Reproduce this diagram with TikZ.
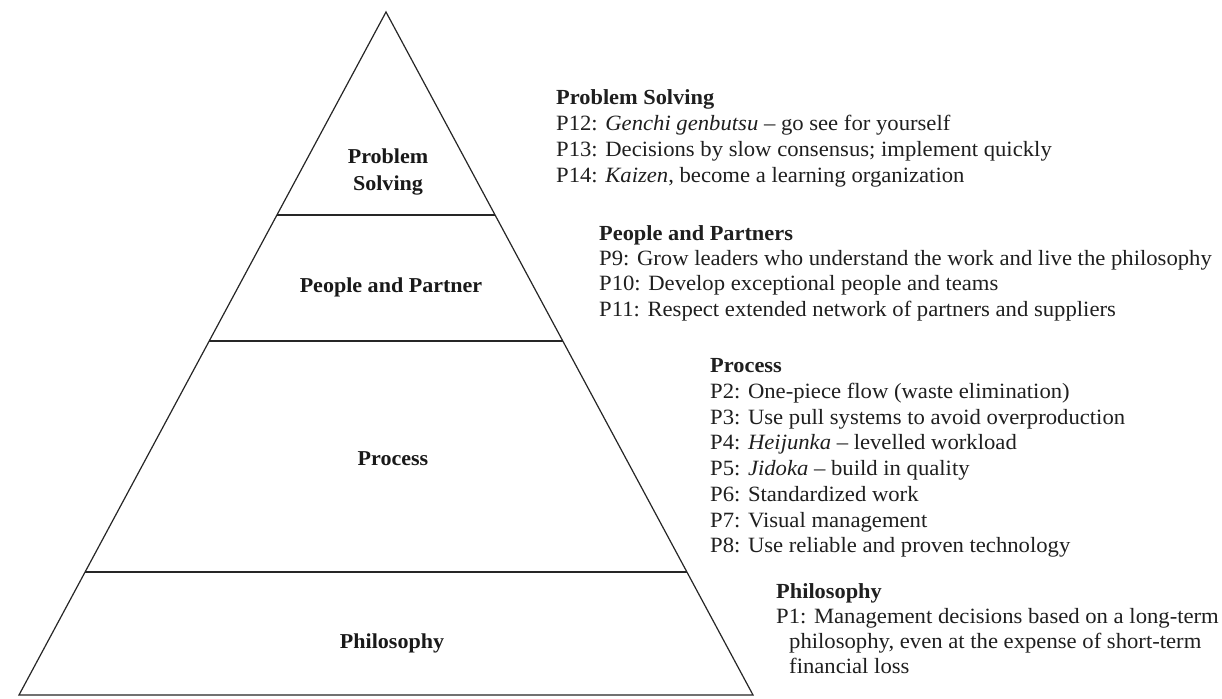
\documentclass[tikz,border=0pt]{standalone}
\usepackage{fontspec}
\setmainfont{Liberation Serif}[FakeStretch=1.04]
\begin{document}
\begin{tikzpicture}[x=1pt,y=-1pt,
  edge/.style={draw=black!85, line width=1.2pt},
  txt/.style={anchor=base west, inner sep=0pt, text=black!88, font=\fontsize{21.8}{25}\selectfont},
  head/.style={txt, font=\bfseries\fontsize{21.5}{25}\selectfont},
  lbl/.style={anchor=base, inner sep=0pt, text=black!90, font=\bfseries\fontsize{21.2}{25}\selectfont}]
\useasboundingbox (0,0) rectangle (1222,698);
\fill[white] (0,0) rectangle (1222,698);
% pyramid
\coordinate (apex) at (386,12);
\coordinate (bl) at (19,695);
\coordinate (br) at (753,695);
\coordinate (l1) at (277,215); \coordinate (r1) at (495,215);
\coordinate (l2) at (209,341); \coordinate (r2) at (563,341);
\coordinate (l3) at (85,572);  \coordinate (r3) at (687,572);
\draw[edge, line join=miter] (bl) -- (apex) -- (br) -- cycle;
\draw[edge] (l1) -- (r1);
\draw[edge] (l2) -- (r2);
\draw[edge] (l3) -- (r3);
% labels in pyramid
\node[lbl] (lps1) at (388,163) {Problem};
\node[lbl] (lps2) at (388,190) {Solving};
\node[lbl] (lpp) at (391,292) {People and Partner};
\node[lbl] (lpr) at (393,465) {Process};
\node[lbl] (lph) at (392,648) {Philosophy};
% Problem solving block
\node[head] (ps0) at (556,105) {Problem Solving};
\node[txt] (ps1) at (556,131) {P12: \textit{Genchi genbutsu} – go see for yourself};
\node[txt] (ps2) at (556,156) {P13: Decisions by slow consensus; implement quickly};
\node[txt] (ps3) at (556,182) {P14: \textit{Kaizen}, become a learning organization};
% People block
\node[head] (pp0) at (599,240) {People and Partners};
\node[txt] (pp1) at (599,265) {P9: Grow leaders who understand the work and live the philosophy};
\node[txt] (pp2) at (599,290) {P10: Develop exceptional people and teams};
\node[txt] (pp3) at (599,316) {P11: Respect extended network of partners and suppliers};
% Process block
\node[head] (pr0) at (710,372) {Process};
\node[txt] (pr1) at (710,398) {P2: One-piece flow (waste elimination)};
\node[txt] (pr2) at (710,424) {P3: Use pull systems to avoid overproduction};
\node[txt] (pr3) at (710,449) {P4: \textit{Heijunka} – levelled workload};
\node[txt] (pr4) at (710,475) {P5: \textit{Jidoka} – build in quality};
\node[txt] (pr5) at (710,501) {P6: Standardized work};
\node[txt] (pr6) at (710,527) {P7: Visual management};
\node[txt] (pr7) at (710,552) {P8: Use reliable and proven technology};
% Philosophy block
\node[head] (ph0) at (776,598) {Philosophy};
\node[txt] (ph1) at (776,623) {P1: Management decisions based on a long-term};
\node[txt] (ph2) at (789,648) {philosophy, even at the expense of short-term};
\node[txt] (ph3) at (789,673) {financial loss};
\end{tikzpicture}
\end{document}
